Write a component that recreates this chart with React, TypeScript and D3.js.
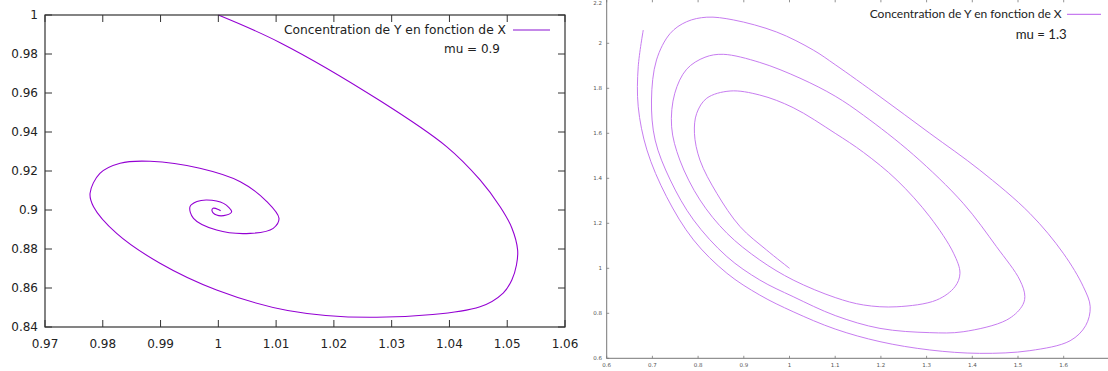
import React from "react";
import * as d3 from "d3";

// ---- Left chart (mu = 0.9) ----
const leftXTicks = [0.97, 0.98, 0.99, 1, 1.01, 1.02, 1.03, 1.04, 1.05, 1.06];
const leftYTicks = [0.84, 0.86, 0.88, 0.9, 0.92, 0.94, 0.96, 0.98, 1];
const leftLegend = "Concentration de Y en fonction de X";
const leftMu = "mu = 0.9";
const leftTrajectory: [number, number][] = [
  [1.0, 1.0],
  [1.0107, 0.9858],
  [1.028, 0.956],
  [1.0395, 0.9325],
  [1.0453, 0.9154],
  [1.0488, 0.9015],
  [1.0508, 0.8908],
  [1.0518, 0.8795],
  [1.0516, 0.8718],
  [1.0508, 0.8641],
  [1.0493, 0.8574],
  [1.0453, 0.8504],
  [1.0274, 0.845],
  [1.012, 0.8485],
  [0.9997, 0.859],
  [0.9899, 0.8727],
  [0.9824, 0.888],
  [0.9784, 0.9017],
  [0.9778, 0.9086],
  [0.9795, 0.9188],
  [0.983, 0.924],
  [0.9882, 0.925],
  [0.9968, 0.9214],
  [1.0038, 0.9145],
  [1.0084, 0.9043],
  [1.0105, 0.8957],
  [1.0095, 0.8906],
  [1.0055, 0.888],
  [0.9997, 0.8897],
  [0.9957, 0.8957],
  [0.9951, 0.9017],
  [0.9963, 0.9043],
  [0.998, 0.9051],
  [1.0009, 0.9034],
  [1.0023, 0.8991],
  [1.0014, 0.8974],
  [0.9997, 0.8974],
  [0.9989, 0.8997],
  [0.9991, 0.9009],
  [1.0, 0.9003],
  [1.0004, 0.8996],
];

// ---- Right chart (mu = 1.3) ----
const rightXTicks = [0.6, 0.7, 0.8, 0.9, 1, 1.1, 1.2, 1.3, 1.4, 1.5, 1.6];
const rightYTicks = [0.6, 0.8, 1, 1.2, 1.4, 1.6, 1.8, 2, 2.2];
const rightLegend = "Concentration de Y en fonction de X";
const rightMu = "mu = 1.3";
const rightTrajectory: [number, number][] = [
  [1.0, 1.0],
  [0.95, 1.081],
  [0.892, 1.185],
  [0.841, 1.333],
  [0.804, 1.481],
  [0.792, 1.6],
  [0.797, 1.689],
  [0.819, 1.756],
  [0.87, 1.788],
  [0.935, 1.77],
  [1.008, 1.714],
  [1.1, 1.6],
  [1.162, 1.515],
  [1.235, 1.392],
  [1.307, 1.229],
  [1.359, 1.067],
  [1.373, 0.978],
  [1.362, 0.918],
  [1.322, 0.859],
  [1.235, 0.829],
  [1.162, 0.837],
  [1.1, 0.87],
  [1.008, 0.948],
  [0.935, 1.037],
  [0.863, 1.156],
  [0.804, 1.304],
  [0.76, 1.481],
  [0.742, 1.629],
  [0.749, 1.778],
  [0.775, 1.885],
  [0.815, 1.938],
  [0.855, 1.951],
  [0.935, 1.915],
  [1.023, 1.845],
  [1.1, 1.765],
  [1.162, 1.68],
  [1.271, 1.505],
  [1.38, 1.289],
  [1.453, 1.096],
  [1.504, 0.948],
  [1.515, 0.874],
  [1.508, 0.829],
  [1.475, 0.77],
  [1.38, 0.718],
  [1.307, 0.714],
  [1.198, 0.733],
  [1.1, 0.79],
  [1.008, 0.874],
  [0.935, 0.948],
  [0.863, 1.052],
  [0.79, 1.215],
  [0.739, 1.393],
  [0.706, 1.57],
  [0.698, 1.748],
  [0.709, 1.926],
  [0.739, 2.044],
  [0.775, 2.096],
  [0.819, 2.116],
  [0.877, 2.104],
  [0.972, 2.05],
  [1.052, 1.97],
  [1.1, 1.905],
  [1.198, 1.763],
  [1.307, 1.6],
  [1.416, 1.437],
  [1.526, 1.244],
  [1.599, 1.067],
  [1.643, 0.918],
  [1.658, 0.829],
  [1.648, 0.745],
  [1.614, 0.678],
  [1.526, 0.634],
  [1.416, 0.622],
  [1.307, 0.637],
  [1.198, 0.674],
  [1.1, 0.73],
  [1.008, 0.807],
  [0.935, 0.881],
  [0.863, 0.978],
  [0.79, 1.126],
  [0.731, 1.318],
  [0.688, 1.526],
  [0.669, 1.718],
  [0.669, 1.896],
  [0.68, 2.059],
];

const fmt = (v: number) => String(+v.toFixed(2));

function LeftChart() {
  const L = 45, R = 565, T = 15, B = 327;
  const x = d3.scaleLinear().domain([0.97, 1.06]).range([L, R]);
  const y = d3.scaleLinear().domain([0.84, 1.0]).range([B, T]);
  const line = d3
    .line<[number, number]>()
    .x((d) => x(d[0]))
    .y((d) => y(d[1]))
    .curve(d3.curveCatmullRom.alpha(0.5));
  const tl = 7;
  const font = "DejaVu Sans, sans-serif";
  return (
    <g>
      <path d={line(leftTrajectory) || ""} fill="none" stroke="#9400d3" strokeWidth={1.1} />
      {leftXTicks.map((t) => (
        <g key={"lx" + t}>
          <line x1={x(t)} x2={x(t)} y1={B} y2={B - tl} stroke="#333" strokeWidth={1} />
          <line x1={x(t)} x2={x(t)} y1={T} y2={T + tl} stroke="#333" strokeWidth={1} />
          <text x={x(t)} y={348} textAnchor="middle" fontFamily={font} fontSize={12} fill="#222">
            {fmt(t)}
          </text>
        </g>
      ))}
      {leftYTicks.map((t) => (
        <g key={"ly" + t}>
          <line x1={L} x2={L + tl} y1={y(t)} y2={y(t)} stroke="#333" strokeWidth={1} />
          <line x1={R} x2={R - tl} y1={y(t)} y2={y(t)} stroke="#333" strokeWidth={1} />
          <text x={38} y={y(t) + 4.4} textAnchor="end" fontFamily={font} fontSize={12} fill="#222">
            {fmt(t)}
          </text>
        </g>
      ))}
      <rect x={L} y={T} width={R - L} height={B - T} fill="none" stroke="#333" strokeWidth={1.2} />
      <text x={506} y={34.3} textAnchor="end" fontFamily={font} fontSize={12} fill="#222"
        textLength={222} lengthAdjust="spacingAndGlyphs">
        {leftLegend}
      </text>
      <line x1={513} x2={550} y1={30} y2={30} stroke="#b060e0" strokeWidth={1.5} />
      <text x={500} y={52.6} textAnchor="end" fontFamily={font} fontSize={12} fill="#222">
        {leftMu}
      </text>
    </g>
  );
}

function RightChart() {
  const L = 606.7, R = 1109.4, T = -1.7, B = 358.3;
  const x = d3.scaleLinear().domain([0.6, 1.7]).range([L, R]);
  const y = d3.scaleLinear().domain([0.6, 2.2]).range([B, T]);
  const line = d3
    .line<[number, number]>()
    .x((d) => x(d[0]))
    .y((d) => y(d[1]))
    .curve(d3.curveCatmullRom.alpha(0.5));
  const tl = 2.5;
  const font = "DejaVu Sans, sans-serif";
  const axisColor = "#777";
  return (
    <g>
      <path d={line(rightTrajectory) || ""} fill="none" stroke="#c77cf0" strokeWidth={1} />
      {rightXTicks.map((t) => (
        <g key={"rx" + t}>
          <line x1={x(t)} x2={x(t)} y1={B} y2={B - tl} stroke={axisColor} strokeWidth={0.8} />
          <line x1={x(t)} x2={x(t)} y1={T} y2={T + tl + 1.5} stroke={axisColor} strokeWidth={0.8} />
          <text x={x(t)} y={367} textAnchor="middle" fontFamily={font} fontSize={5.5} fill="#555">
            {fmt(t)}
          </text>
        </g>
      ))}
      {rightYTicks.map((t) => (
        <g key={"ry" + t}>
          <line x1={L} x2={L + tl} y1={y(t)} y2={y(t)} stroke={axisColor} strokeWidth={0.8} />
          <text x={602} y={Math.max(y(t) + 2, 5)} textAnchor="end" fontFamily={font} fontSize={5.5} fill="#555">
            {fmt(t)}
          </text>
        </g>
      ))}
      <rect x={L} y={T} width={R - L} height={B - T} fill="none" stroke={axisColor} strokeWidth={1} />
      <text x={1061.7} y={18.2} textAnchor="end" fontFamily="Lato, sans-serif" fontSize={11.5} fill="#222"
        textLength={192} lengthAdjust="spacingAndGlyphs">
        {rightLegend}
      </text>
      <line x1={1067} x2={1101} y1={14.3} y2={14.3} stroke="#c77cf0" strokeWidth={1.2} />
      <text x={1066.7} y={38.5} textAnchor="end" fontFamily="Lato, sans-serif" fontSize={13} fill="#222"
        textLength={51} lengthAdjust="spacingAndGlyphs">
        {rightMu}
      </text>
    </g>
  );
}

export default function App() {
  return (
    <svg
      width={1108}
      height={371}
      style={{ position: "absolute", left: 0, top: 0, background: "#fff" }}
    >
      <rect x={0} y={0} width={1108} height={371} fill="#fff" />
      <LeftChart />
      <RightChart />
    </svg>
  );
}
